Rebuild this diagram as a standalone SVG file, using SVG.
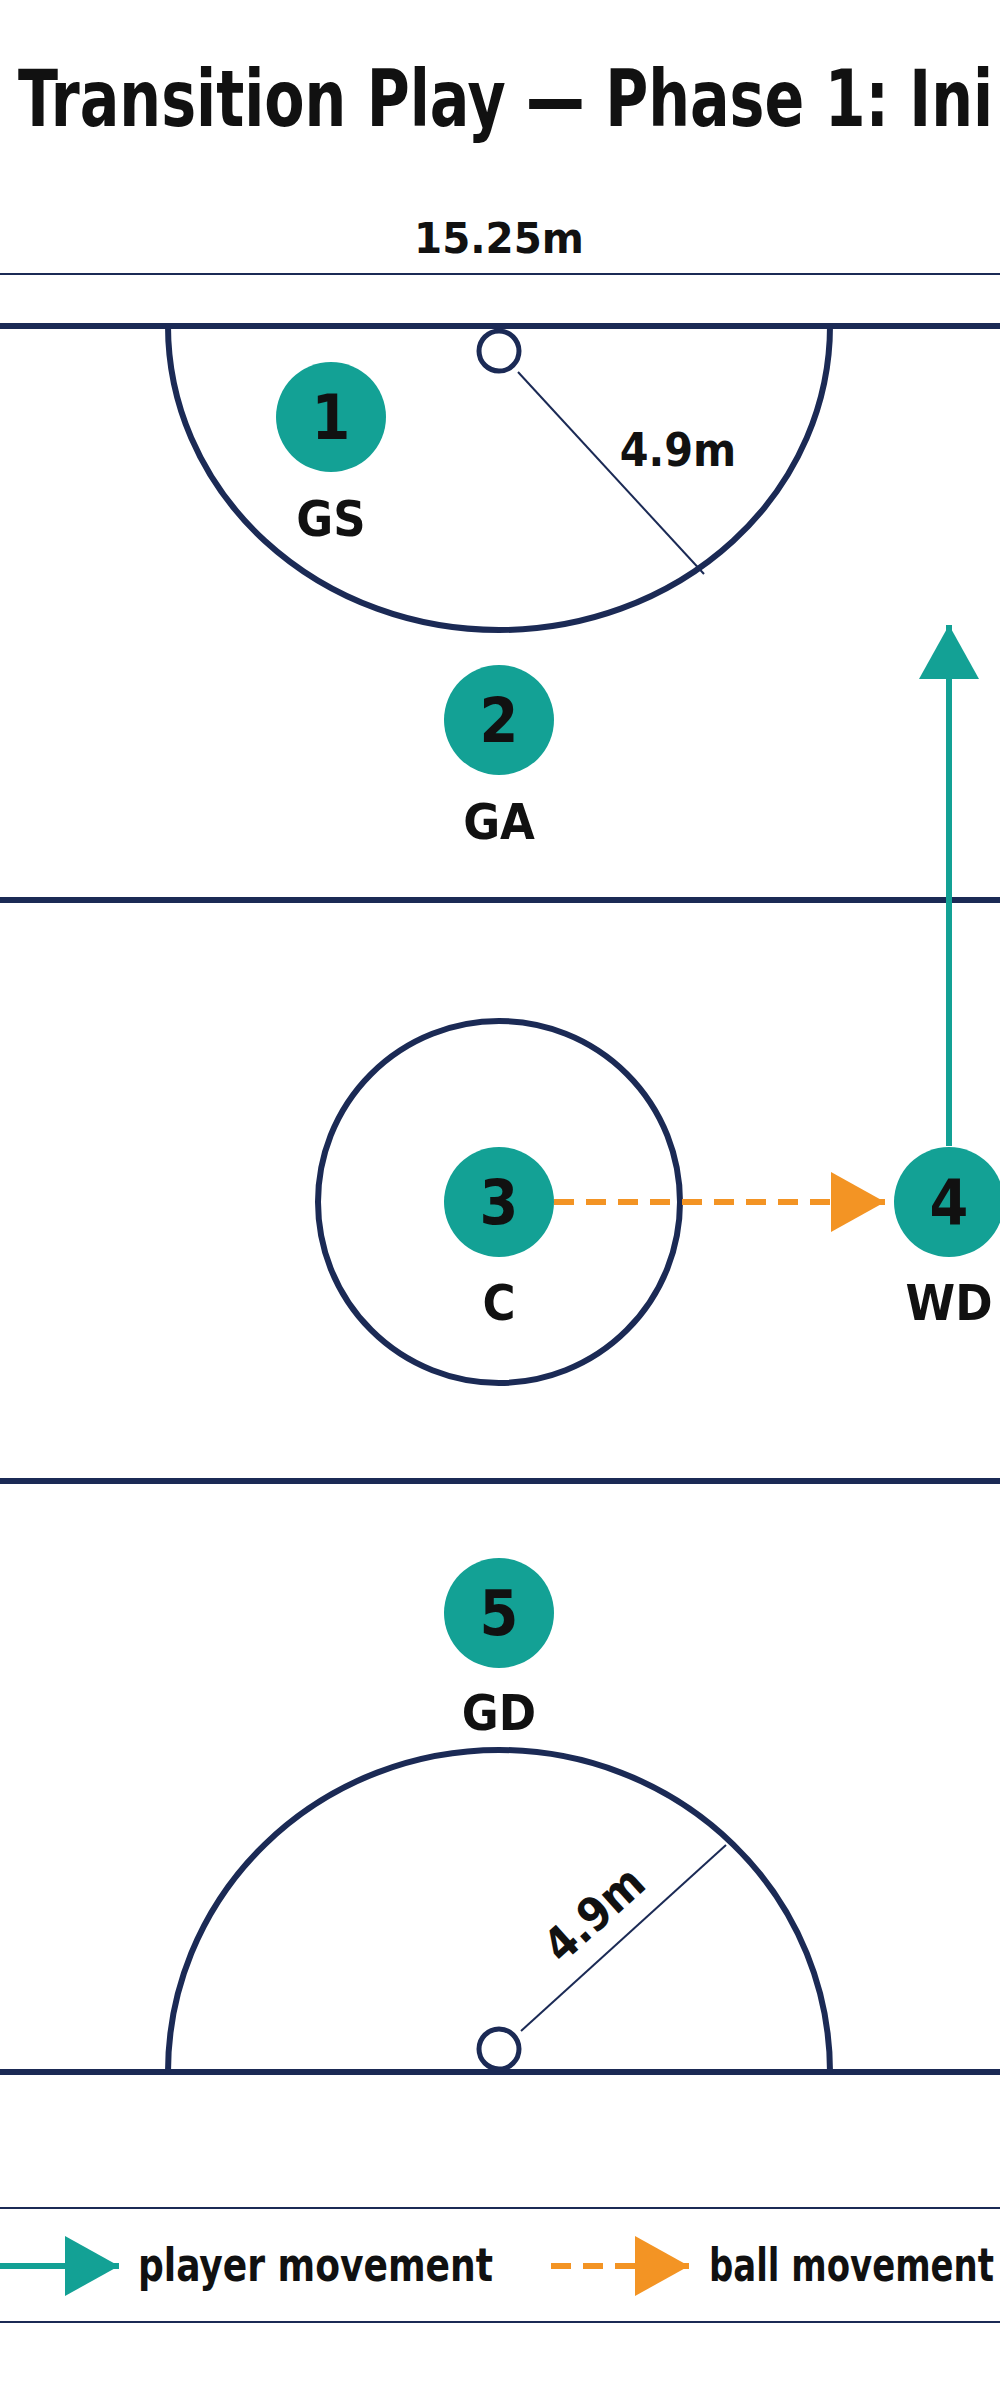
<svg xmlns="http://www.w3.org/2000/svg" width="1000" height="2400" viewBox="0 0 1000 2400">
<style>
.t{font-family:"Liberation Sans Narrow","DejaVu Sans Condensed","Liberation Sans",sans-serif;font-weight:bold;fill:#111}
.court{fill:none;stroke:#1b2a55;stroke-width:6}
.thin{stroke:#1b2a55;stroke-width:2;fill:none}
.p{fill:#13a195}
.num{font-size:62px;text-anchor:middle}
.lab{font-size:50px;text-anchor:middle}
.teal{stroke:#13a195;stroke-width:6;fill:none}
.orange{stroke:#f39424;stroke-width:6;fill:none;stroke-dasharray:20 12}
</style>
<defs>
<marker id="ah-t" markerWidth="9" markerHeight="10" refX="9" refY="5" orient="auto" markerUnits="strokeWidth"><path d="M0,0 L9,5 L0,10 Z" fill="#13a195"/></marker>
<marker id="ah-o" markerWidth="9" markerHeight="10" refX="9" refY="5" orient="auto" markerUnits="strokeWidth"><path d="M0,0 L9,5 L0,10 Z" fill="#f39424"/></marker>
</defs>
<rect width="1000" height="2400" fill="#fff"/>
<text class="t" x="18" y="126" font-size="78" textLength="975" lengthAdjust="spacingAndGlyphs">Transition Play — Phase 1: Ini</text>
<text class="t" x="499" y="253" font-size="42" text-anchor="middle" textLength="170" lengthAdjust="spacingAndGlyphs">15.25m</text>
<line class="thin" x1="0" y1="274" x2="1000" y2="274"/>
<g id="court">
<line class="court" x1="0" y1="326" x2="1000" y2="326"/>
<line class="court" x1="0" y1="900" x2="1000" y2="900"/>
<line class="court" x1="0" y1="1481" x2="1000" y2="1481"/>
<line class="court" x1="0" y1="2072" x2="1000" y2="2072"/>
<path class="court" d="M168,326 A331,304 0 0 0 830,326"/>
<path class="court" d="M168,2072 A331,322 0 0 1 830,2072"/>
<circle class="court" cx="499" cy="1202" r="181"/>
<line class="thin" x1="518" y1="372" x2="704" y2="574"/>
<line class="thin" x1="521" y1="2031" x2="726" y2="1845"/>
<circle cx="499" cy="351" r="20" fill="#fff" stroke="#1b2a55" stroke-width="5"/>
<circle cx="499" cy="2049" r="20" fill="#fff" stroke="#1b2a55" stroke-width="5"/>
<text class="t" x="678" y="466" font-size="46" text-anchor="middle">4.9m</text>
<text class="t" x="594" y="1930" font-size="46" text-anchor="middle" transform="rotate(-42 594 1914)">4.9m</text>
</g>
<g id="connectors">
<line class="teal" x1="949" y1="1146" x2="949" y2="625" marker-end="url(#ah-t)"/>
<line class="orange" x1="554" y1="1202" x2="885" y2="1202" marker-end="url(#ah-o)"/>
</g>
<g id="p1"><circle class="p" cx="331" cy="417" r="55"/><text class="t num" x="331" y="439">1</text><text class="t lab" x="331" y="536">GS</text></g>
<g id="p2"><circle class="p" cx="499" cy="720" r="55"/><text class="t num" x="499" y="742">2</text><text class="t lab" x="499" y="839">GA</text></g>
<g id="p3"><circle class="p" cx="499" cy="1202" r="55"/><text class="t num" x="499" y="1224">3</text><text class="t lab" x="499" y="1320">C</text></g>
<g id="p4"><circle class="p" cx="949" cy="1202" r="55"/><text class="t num" x="949" y="1224">4</text><text class="t lab" x="949" y="1320">WD</text></g>
<g id="p5"><circle class="p" cx="499" cy="1613" r="55"/><text class="t num" x="499" y="1635">5</text><text class="t lab" x="499" y="1730">GD</text></g>
<g id="legend">
<line class="thin" x1="0" y1="2208" x2="1000" y2="2208"/>
<line class="thin" x1="0" y1="2322" x2="1000" y2="2322"/>
<line class="teal" x1="0" y1="2266" x2="119" y2="2266" marker-end="url(#ah-t)"/>
<text class="t" x="138" y="2281" font-size="46" textLength="355" lengthAdjust="spacingAndGlyphs">player movement</text>
<line class="orange" x1="551" y1="2266" x2="689" y2="2266" marker-end="url(#ah-o)"/>
<text class="t" x="709" y="2281" font-size="46" textLength="285" lengthAdjust="spacingAndGlyphs">ball movement</text>
</g>
</svg>
